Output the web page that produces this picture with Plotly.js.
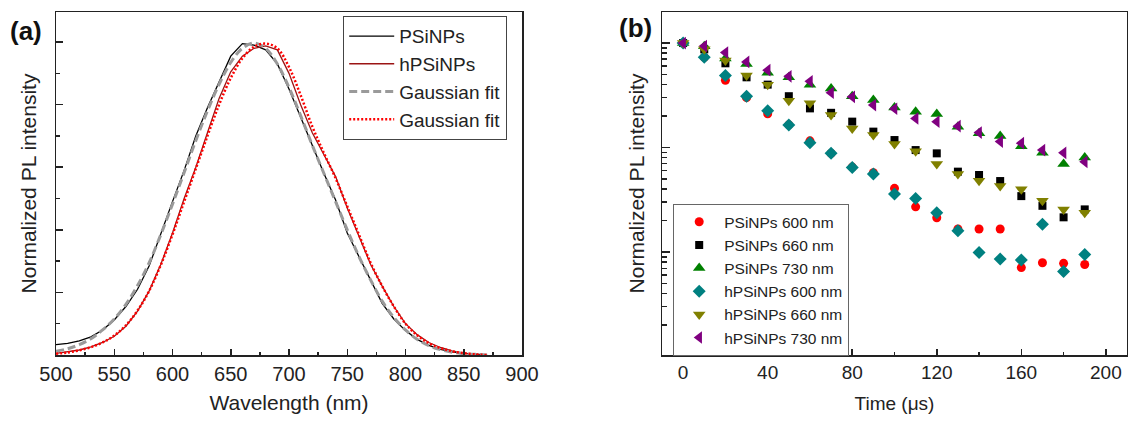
<!DOCTYPE html>
<html>
<head>
<meta charset="utf-8">
<script src="https://cdn.plot.ly/plotly-3.0.1.min.js"></script>
<style>html,body{margin:0;padding:0;background:#fff}#chart{width:1128px;height:421px}</style>
</head>
<body>
<div id="chart"></div>
<script>
// ---------- Panel (a): PL spectra ----------
const wavelength = [500,510,520,530,540,550,560,570,580,590,600,610,620,630,640,650,660,670,680,690,700,710,720,730,740,750,760,770,780,790,800,810,820,830,840,850,860,870];
const psinps = [0.033,0.037,0.045,0.058,0.08,0.112,0.155,0.21,0.285,0.39,0.49,0.59,0.70,0.79,0.875,0.955,0.995,0.99,0.975,0.93,0.85,0.76,0.665,0.58,0.495,0.39,0.315,0.24,0.165,0.115,0.078,0.05,0.031,0.018,0.01,0.005,0.002,0];
const psinpsFit = [0.012,0.02,0.033,0.052,0.08,0.115,0.162,0.222,0.295,0.385,0.482,0.583,0.685,0.78,0.865,0.935,0.98,0.997,0.98,0.93,0.855,0.765,0.67,0.58,0.49,0.40,0.315,0.24,0.172,0.12,0.08,0.05,0.03,0.017,0.009,0.004,0.002,0];
const hpsinps = [0.005,0.01,0.016,0.026,0.04,0.06,0.092,0.14,0.205,0.29,0.39,0.50,0.60,0.71,0.82,0.905,0.955,0.98,0.988,0.975,0.90,0.80,0.71,0.64,0.57,0.47,0.38,0.29,0.22,0.155,0.10,0.065,0.04,0.024,0.013,0.006,0.002,0];
const hpsinpsFit = [0.004,0.008,0.015,0.025,0.04,0.062,0.095,0.142,0.205,0.288,0.385,0.49,0.595,0.70,0.80,0.885,0.948,0.985,0.995,0.98,0.92,0.83,0.73,0.645,0.565,0.475,0.385,0.295,0.22,0.155,0.10,0.063,0.038,0.022,0.012,0.006,0.002,0];
const specNames = ['PSiNPs','hPSiNPs','Gaussian fit','Gaussian fit'];

// ---------- Panel (b): PL decay ----------
const time = [0,10,20,30,40,50,60,70,80,90,100,110,120,130,140,150,160,170,180,190];
const psi600 = [1.0,0.73,0.44,0.30,0.21,0.165,0.116,0.088,0.065,0.0574,0.0407,0.0271,0.0213,0.0166,0.0166,0.0166,0.0071,0.0079,0.0078,0.0076];
const psi660 = [1.0,0.87,0.64,0.47,0.40,0.31,0.237,0.215,0.177,0.142,0.118,0.0946,0.088,0.0588,0.0546,0.0478,0.0343,0.0277,0.0215,0.0256];
const psi730 = [1.0,0.93,0.71,0.63,0.52,0.47,0.40,0.368,0.31,0.285,0.242,0.22,0.209,0.158,0.137,0.129,0.103,0.089,0.0695,0.0805];
const hpsi600 = [1.0,0.73,0.49,0.31,0.225,0.164,0.111,0.088,0.0646,0.0557,0.0359,0.0326,0.0238,0.016,0.0099,0.00857,0.0084,0.0185,0.0065,0.0095];
const hpsi660 = [1.0,0.87,0.68,0.49,0.40,0.28,0.265,0.205,0.152,0.132,0.108,0.092,0.0695,0.0557,0.048,0.0428,0.0398,0.031,0.0256,0.0238];
const hpsi730 = [1.0,0.935,0.81,0.66,0.55,0.48,0.43,0.335,0.306,0.255,0.235,0.19,0.177,0.16,0.139,0.114,0.11,0.0946,0.089,0.073];
const decayNames = ['PSiNPs 600 nm','PSiNPs 660 nm','PSiNPs 730 nm','hPSiNPs 600 nm','hPSiNPs 660 nm','hPSiNPs 730 nm'];

const FONT = 'Liberation Sans, Arial, Helvetica, sans-serif';
const AX = '#222';

const traces = [
  {x: wavelength, y: psinps, name: specNames[0], type:'scatter', mode:'lines', line:{color:'#000000', width:1.3}, xaxis:'x', yaxis:'y', legend:'legend'},
  {x: wavelength, y: hpsinps, name: specNames[1], type:'scatter', mode:'lines', line:{color:'#9b1414', width:1.3}, xaxis:'x', yaxis:'y', legend:'legend'},
  {x: wavelength, y: psinpsFit, name: specNames[2], type:'scatter', mode:'lines', line:{color:'#9a9a9a', width:3, dash:'8px,4px', shape:'spline'}, xaxis:'x', yaxis:'y', legend:'legend'},
  {x: wavelength, y: hpsinpsFit, name: specNames[3], type:'scatter', mode:'lines', line:{color:'#ff0000', width:2.5, dash:'2px,2px', shape:'spline'}, xaxis:'x', yaxis:'y', legend:'legend'},
];

const decaySeries = [psi600, psi660, psi730, hpsi600, hpsi660, hpsi730];
const decayStyle = [
  {color:'#ff0000', symbol:'circle', size:9},
  {color:'#000000', symbol:'square', size:8},
  {color:'#008000', symbol:'triangle-up', size:11},
  {color:'#008080', symbol:'diamond', size:10},
  {color:'#808000', symbol:'triangle-down', size:11},
  {color:'#800080', symbol:'triangle-left', size:11},
];
decaySeries.forEach((ys, i) => {
  traces.push({x: time, y: ys, name: decayNames[i], type:'scatter', mode:'markers',
    marker:{color: decayStyle[i].color, symbol: decayStyle[i].symbol, size: decayStyle[i].size, line:{width:0}},
    xaxis:'x2', yaxis:'y2', legend:'legend2'});
});

// minor tick positions on the log axis (2..9 within each decade)
const logMinor = [];
[0.001, 0.01, 0.1, 1].forEach(d => { for (let k = 2; k <= 9; k++) logMinor.push(d * k); });

const yDom = [1 - 355/421, 1 - 12/421];
const common = {showline:true, linecolor:AX, linewidth:1.5, mirror:true, showgrid:false, zeroline:false,
  ticks:'inside', tickcolor:AX, tickwidth:1.5, automargin:false};

const layout = {
  width:1128, height:421,
  margin:{l:0, r:0, t:0, b:0},
  paper_bgcolor:'#ffffff', plot_bgcolor:'#ffffff',
  font:{family:FONT, color:AX},
  showlegend:true,
  xaxis: Object.assign({}, common, {
    domain:[56/1128, 522/1128], anchor:'y', range:[500,900], tick0:500, dtick:50, ticklen:6,
    minor:{dtick:25, ticks:'inside', ticklen:3, tickwidth:1.5, tickcolor:AX},
    tickfont:{size:20, color:AX},
    title:{text:'Wavelength (nm)', font:{size:21, color:AX}, standoff:12}
  }),
  yaxis: Object.assign({}, common, {
    domain:yDom, anchor:'x', range:[0,1.096], tick0:0, dtick:0.2, ticklen:7, showticklabels:false,
    minor:{dtick:0.1, ticks:'inside', ticklen:4, tickwidth:1.5, tickcolor:AX},
    title:{text:'Normalized PL intensity', font:{size:21, color:AX}, standoff:12}
  }),
  xaxis2: Object.assign({}, common, {
    domain:[662/1128, 1127/1128], anchor:'y2', range:[-10,210], tick0:0, dtick:40, ticklen:6,
    minor:{dtick:20, ticks:'inside', ticklen:3, tickwidth:1.5, tickcolor:AX},
    tickfont:{size:19, color:AX},
    title:{text:'Time (μs)', font:{size:19, color:AX}, standoff:14}
  }),
  yaxis2: Object.assign({}, common, {
    domain:yDom, anchor:'x2', type:'log', range:[-2.985,0.297],
    tickmode:'array', tickvals:[0.001,0.01,0.1,1], ticklen:8, showticklabels:false,
    minor:{tickmode:'array', tickvals:logMinor, ticks:'inside', ticklen:5, tickwidth:1.5, tickcolor:AX},
    title:{text:'Normalized PL intensity', font:{size:21, color:AX}, standoff:10}
  }),
  legend:{x:343/1128, y:1-16/421, xanchor:'left', yanchor:'top', bgcolor:'#ffffff',
    bordercolor:'#444', borderwidth:1.2, font:{size:19, family:FONT, color:AX}, tracegroupgap:0, itemwidth:45},
  legend2:{x:673/1128, y:1-204/421, xanchor:'left', yanchor:'top', bgcolor:'#ffffff',
    bordercolor:'#666', borderwidth:1.2, font:{size:15.5, family:FONT, color:AX}, tracegroupgap:0, itemwidth:40},
  annotations:[
    {text:'<b>(a)</b>', xref:'paper', yref:'paper', x:26/1128, y:1-31/421, xanchor:'center', yanchor:'middle', showarrow:false, font:{size:26, family:FONT, color:'#111'}},
    {text:'<b>(b)</b>', xref:'paper', yref:'paper', x:635/1128, y:1-28/421, xanchor:'center', yanchor:'middle', showarrow:false, font:{size:26, family:FONT, color:'#111'}}
  ]
};

Plotly.newPlot('chart', traces, layout, {staticPlot:true, displayModeBar:false});
</script>
</body>
</html>
